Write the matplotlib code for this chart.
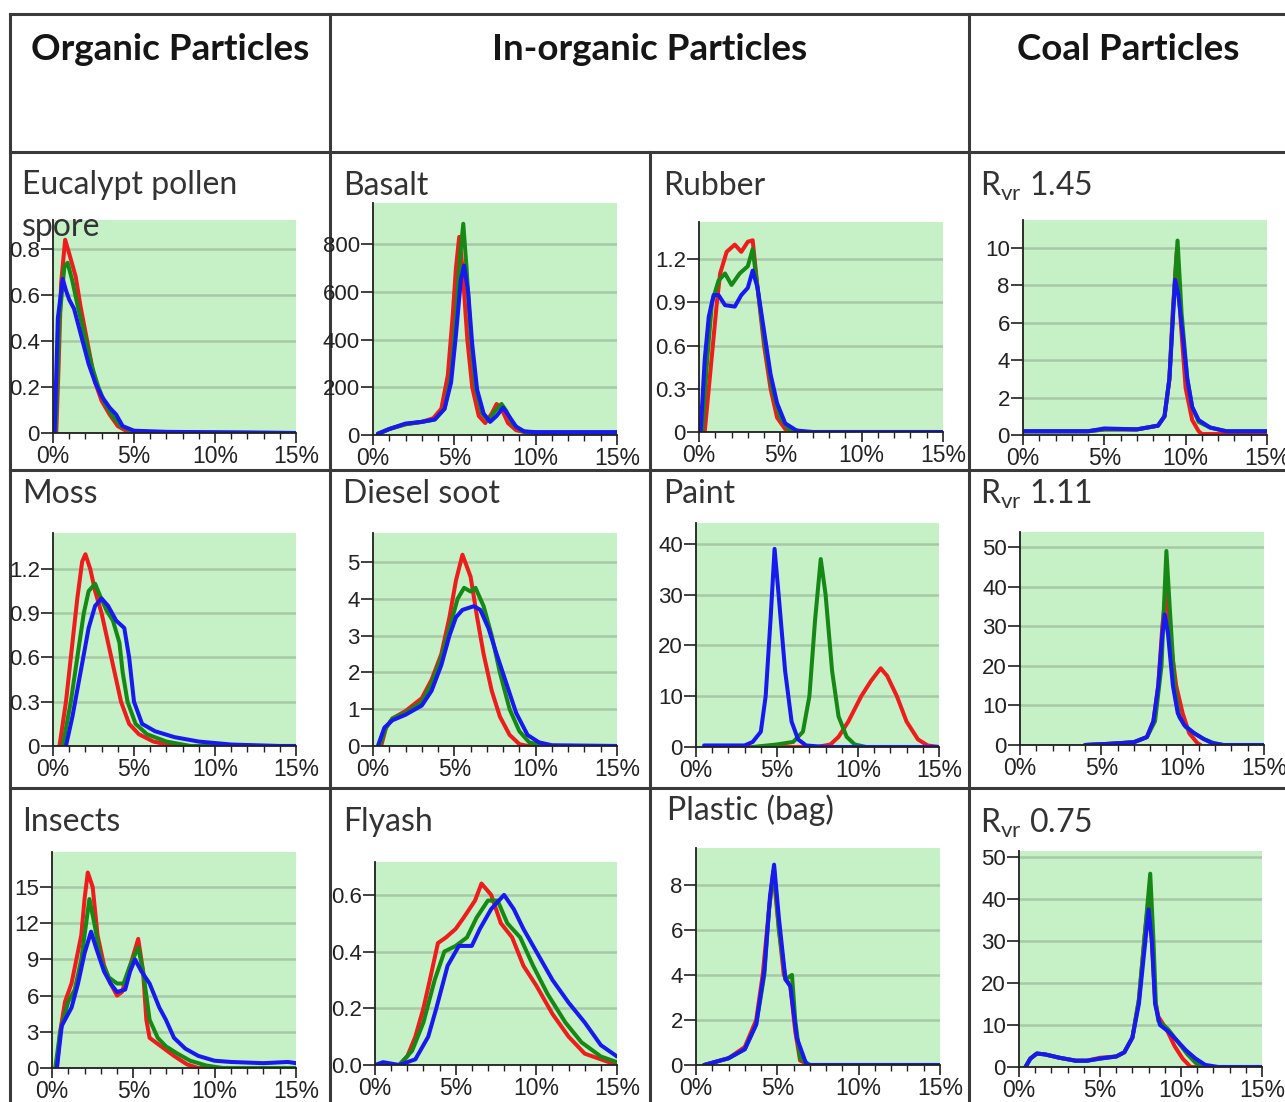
import matplotlib
matplotlib.use("Agg")
import matplotlib.pyplot as plt
from matplotlib.lines import Line2D
from matplotlib.ticker import MultipleLocator, FixedLocator

plt.rcParams['font.family'] = ['Lato', 'DejaVu Sans']
plt.rcParams['mathtext.fontset'] = 'custom'
plt.rcParams['mathtext.rm'] = 'Lato'
plt.rcParams['mathtext.it'] = 'Lato:italic'

# ---- data: (x in %, y) points, red / green / blue runs ----
euc_red = [(0, 0), (0.2, 0), (0.35, 0.3), (0.5, 0.65), (0.75, 0.84), (1.0, 0.78), (1.4, 0.68), (1.7, 0.55),
           (2.0, 0.44), (2.3, 0.33), (2.6, 0.22), (3.0, 0.14), (3.5, 0.08), (4.0, 0.03), (4.5, 0.01), (5.5, 0), (15, 0)]
euc_green = [(0, 0), (0.15, 0), (0.4, 0.5), (0.7, 0.72), (0.9, 0.74), (1.2, 0.66), (1.5, 0.56), (1.8, 0.47),
             (2.1, 0.38), (2.4, 0.29), (2.8, 0.2), (3.2, 0.13), (3.7, 0.07), (4.2, 0.03), (5.0, 0.005), (15, 0)]
euc_blue = [(0, 0), (0.1, 0), (0.3, 0.5), (0.6, 0.67), (0.8, 0.62), (1.0, 0.58), (1.3, 0.54), (1.6, 0.46),
            (1.9, 0.38), (2.2, 0.3), (2.6, 0.22), (3.0, 0.16), (3.5, 0.11), (3.9, 0.08), (4.3, 0.03), (5.0, 0.01),
            (7.0, 0.005), (15, 0)]
euc_yticks = [0, 0.2, 0.4, 0.6, 0.8]
euc_ylabels = ['0', '0.2', '0.4', '0.6', '0.8']

bas_red = [(0.3, 5), (1.0, 25), (2.0, 45), (3.0, 55), (3.7, 70), (4.2, 110), (4.6, 250), (4.9, 500), (5.1, 700),
           (5.3, 830), (5.5, 700), (5.8, 400), (6.1, 200), (6.5, 80), (6.9, 50), (7.3, 90), (7.6, 130), (7.9, 110),
           (8.3, 50), (8.8, 20), (9.5, 10), (11, 8), (15, 8)]
bas_green = [(0.3, 5), (1.0, 25), (2.0, 45), (3.0, 55), (3.8, 65), (4.4, 110), (4.8, 250), (5.1, 500), (5.35, 750),
             (5.55, 885), (5.75, 700), (6.0, 420), (6.3, 200), (6.7, 90), (7.1, 60), (7.5, 100), (7.9, 130),
             (8.2, 100), (8.6, 45), (9.2, 15), (10, 10), (15, 10)]
bas_blue = [(0.3, 5), (1.0, 25), (2.0, 48), (3.0, 55), (3.8, 65), (4.4, 110), (4.8, 220), (5.1, 420), (5.4, 650),
            (5.6, 710), (5.85, 600), (6.1, 380), (6.4, 190), (6.8, 90), (7.2, 55), (7.6, 80), (8.0, 115),
            (8.4, 75), (8.8, 35), (9.3, 15), (10, 12), (11.5, 12), (15, 12)]
bas_yticks = [0, 200, 400, 600, 800]
bas_ylabels = ['0', '200', '400', '600', '800']

rub_red = [(0.35, 0), (0.6, 0.3), (0.85, 0.6), (1.1, 0.9), (1.3, 1.1), (1.7, 1.25), (2.2, 1.3), (2.6, 1.25),
           (3.0, 1.32), (3.3, 1.33), (3.6, 1.0), (4.0, 0.6), (4.4, 0.3), (4.8, 0.1), (5.3, 0.02), (6.0, 0), (15, 0)]
rub_green = [(0.2, 0), (0.5, 0.5), (0.8, 0.9), (1.2, 1.05), (1.6, 1.1), (2.0, 1.02), (2.5, 1.1), (3.0, 1.15),
             (3.3, 1.27), (3.6, 1.0), (4.0, 0.65), (4.5, 0.3), (5.0, 0.1), (5.5, 0.02), (6.5, 0), (15, 0)]
rub_blue = [(0.1, 0), (0.35, 0.5), (0.6, 0.8), (0.9, 0.95), (1.2, 0.95), (1.6, 0.88), (2.2, 0.87), (2.6, 0.95),
            (3.0, 1.0), (3.3, 1.12), (3.6, 1.0), (4.0, 0.7), (4.4, 0.4), (4.8, 0.2), (5.3, 0.06), (6.0, 0.01),
            (7.0, 0), (15, 0)]
rub_yticks = [0, 0.3, 0.6, 0.9, 1.2]
rub_ylabels = ['0', '0.3', '0.6', '0.9', '1.2']

r145_red = [(0, 0.2), (4.0, 0.2), (5.0, 0.3), (7.0, 0.3), (8.3, 0.5), (8.7, 1.0), (9.0, 3.0), (9.2, 6.5),
            (9.45, 9.8), (9.7, 6.0), (10.0, 2.5), (10.4, 0.8), (10.8, 0.2), (11.0, 0.05), (15, 0.05)]
r145_green = [(0, 0.2), (4.0, 0.2), (5.0, 0.3), (7.0, 0.3), (8.3, 0.5), (8.7, 1.0), (9.0, 3.0), (9.25, 7.0),
              (9.5, 10.4), (9.75, 6.5), (10.1, 3.0), (10.4, 1.5), (10.8, 0.7), (11.5, 0.4), (12.5, 0.2), (15, 0.2)]
r145_blue = [(0, 0.2), (4.0, 0.2), (5.0, 0.35), (7.0, 0.3), (8.3, 0.5), (8.7, 1.0), (9.0, 3.0), (9.2, 6.0),
             (9.35, 8.3), (9.55, 7.5), (9.8, 5.5), (10.1, 3.0), (10.4, 1.5), (10.8, 0.8), (11.5, 0.4),
             (12.5, 0.2), (15, 0.2)]
r145_yticks = [0, 2, 4, 6, 8, 10]
r145_ylabels = ['0', '2', '4', '6', '8', '10']

moss_red = [(0.4, 0), (0.8, 0.3), (1.2, 0.7), (1.5, 1.0), (1.8, 1.25), (2.0, 1.3), (2.3, 1.2), (2.6, 1.05),
            (3.0, 0.9), (3.4, 0.7), (3.8, 0.5), (4.2, 0.3), (4.7, 0.15), (5.3, 0.08), (6.2, 0.03), (7.5, 0), (15, 0)]
moss_green = [(0.6, 0), (1.1, 0.3), (1.5, 0.6), (1.9, 0.9), (2.2, 1.05), (2.6, 1.1), (2.9, 1.02), (3.3, 0.92),
              (3.7, 0.85), (4.1, 0.7), (4.3, 0.5), (4.6, 0.3), (5.1, 0.15), (5.8, 0.08), (7.0, 0.03), (8.5, 0), (15, 0)]
moss_blue = [(0.8, 0), (1.2, 0.2), (1.7, 0.5), (2.2, 0.8), (2.6, 0.95), (3.0, 1.0), (3.4, 0.95), (3.9, 0.85),
             (4.4, 0.8), (4.7, 0.6), (5.0, 0.3), (5.5, 0.15), (6.3, 0.1), (7.5, 0.06), (9.0, 0.03), (11, 0.01),
             (14, 0), (15, 0)]
moss_yticks = [0, 0.3, 0.6, 0.9, 1.2]
moss_ylabels = ['0', '0.3', '0.6', '0.9', '1.2']

die_red = [(0.5, 0), (0.8, 0.5), (1.2, 0.75), (2.0, 0.95), (3.0, 1.3), (3.6, 1.8), (4.2, 2.5), (4.7, 3.5),
           (5.1, 4.5), (5.5, 5.2), (6.0, 4.6), (6.4, 3.5), (6.8, 2.5), (7.3, 1.5), (7.8, 0.8), (8.4, 0.3),
           (9.0, 0.05), (9.5, 0), (15, 0)]
die_green = [(0.4, 0), (0.8, 0.5), (1.2, 0.75), (2.0, 0.9), (3.0, 1.2), (3.6, 1.7), (4.2, 2.4), (4.7, 3.2),
             (5.2, 4.0), (5.6, 4.3), (6.0, 4.2), (6.3, 4.3), (6.8, 3.8), (7.3, 3.0), (7.8, 2.0), (8.4, 1.0),
             (9.0, 0.4), (9.6, 0.1), (10.5, 0), (15, 0)]
die_blue = [(0.3, 0), (0.7, 0.5), (1.2, 0.7), (2.0, 0.85), (3.0, 1.1), (3.6, 1.5), (4.2, 2.2), (4.7, 3.0),
            (5.1, 3.5), (5.5, 3.7), (6.2, 3.8), (6.6, 3.7), (7.1, 3.2), (7.6, 2.5), (8.2, 1.7), (8.8, 0.9),
            (9.5, 0.3), (10.2, 0.1), (11, 0.02), (15, 0)]
die_yticks = [0, 1, 2, 3, 4, 5]
die_ylabels = ['0', '1', '2', '3', '4', '5']

pai_red = [(0.5, 0), (7.5, 0), (8.3, 0.5), (8.8, 2.0), (9.4, 5.0), (10.2, 10.0), (10.8, 13.0), (11.4, 15.5),
           (11.8, 14.0), (12.4, 10.0), (13.0, 5.0), (13.7, 1.5), (14.3, 0.3), (15, 0)]
pai_green = [(3.5, 0), (5.0, 0.5), (6.0, 1.0), (6.6, 3.0), (7.0, 10.0), (7.35, 25.0), (7.7, 37.0), (8.0, 30.0),
             (8.4, 15.0), (8.8, 6.0), (9.3, 2.0), (9.8, 0.5), (10.5, 0), (15, 0)]
pai_blue = [(0.5, 0.3), (3.0, 0.3), (3.5, 1.0), (4.0, 3.0), (4.3, 10.0), (4.6, 25.0), (4.85, 39.0), (5.1, 30.0),
            (5.5, 15.0), (5.9, 5.0), (6.3, 1.5), (6.8, 0.3), (8.0, 0), (15, 0)]
pai_yticks = [0, 10, 20, 30, 40]
pai_ylabels = ['0', '10', '20', '30', '40']

r111_red = [(4.0, 0), (5.5, 0.3), (7.0, 0.7), (7.8, 2.0), (8.2, 6.0), (8.5, 15.0), (8.75, 30.0), (9.0, 40.0),
            (9.2, 28.0), (9.6, 15.0), (10.0, 8.0), (10.4, 3.0), (10.9, 0.5), (11.1, 0)]
r111_green = [(4.0, 0), (5.5, 0.3), (7.0, 0.7), (7.8, 2.0), (8.3, 6.0), (8.7, 20.0), (8.85, 35.0), (9.0, 49.0),
              (9.2, 35.0), (9.5, 15.0), (9.8, 7.0), (10.2, 4.5), (10.7, 3.0), (11.3, 1.5), (11.9, 0.5), (12.5, 0)]
r111_blue = [(4.0, 0), (5.5, 0.3), (7.0, 0.7), (7.8, 2.0), (8.2, 6.0), (8.5, 15.0), (8.75, 28.0), (8.9, 33.0),
             (9.1, 28.0), (9.4, 15.0), (9.7, 8.0), (10.1, 5.0), (10.7, 3.0), (11.3, 1.5), (11.8, 0.5), (12.5, 0),
             (15, 0)]
r111_yticks = [0, 10, 20, 30, 40, 50]
r111_ylabels = ['0', '10', '20', '30', '40', '50']

ins_red = [(0.3, 0), (0.5, 3.0), (0.8, 5.5), (1.2, 7.0), (1.5, 9.0), (1.8, 11.0), (2.0, 14.0), (2.2, 16.2),
           (2.5, 15.0), (2.8, 11.0), (3.2, 8.5), (3.6, 7.0), (4.0, 6.0), (4.3, 6.3), (4.7, 8.0), (5.3, 10.7),
           (5.6, 8.0), (5.8, 4.0), (6.0, 2.5), (6.5, 2.0), (7.0, 1.5), (7.5, 1.0), (8.3, 0.3), (9.0, 0), (15, 0)]
ins_green = [(0.2, 0), (0.5, 3.0), (1.0, 5.5), (1.4, 6.5), (1.8, 9.0), (2.1, 12.0), (2.3, 14.0), (2.6, 12.0),
             (3.0, 9.0), (3.5, 7.5), (4.0, 7.0), (4.4, 7.0), (4.8, 8.5), (5.3, 10.0), (5.6, 8.0), (6.0, 4.0),
             (6.5, 2.5), (7.0, 1.8), (7.7, 1.2), (8.5, 0.6), (9.5, 0.2), (10.5, 0), (15, 0)]
ins_blue = [(0.3, 0), (0.6, 3.5), (1.2, 5.0), (1.6, 7.0), (2.0, 9.5), (2.4, 11.3), (2.7, 10.0), (3.2, 8.0),
            (3.6, 7.0), (4.0, 6.3), (4.5, 6.5), (4.8, 8.0), (5.1, 9.0), (5.5, 8.0), (6.0, 7.0), (6.6, 5.0),
            (7.0, 4.0), (7.5, 2.5), (8.2, 1.6), (9.0, 1.0), (10, 0.6), (11, 0.5), (13, 0.4), (14.5, 0.5), (15, 0.4)]
ins_yticks = [0, 3, 6, 9, 12, 15]
ins_ylabels = ['0', '3', '6', '9', '12', '15']

fly_red = [(0, 0), (1.5, 0), (2.0, 0.03), (2.5, 0.1), (3.0, 0.2), (3.4, 0.3), (3.9, 0.43), (4.4, 0.45),
           (5.0, 0.48), (5.5, 0.52), (6.2, 0.58), (6.6, 0.64), (7.2, 0.6), (7.8, 0.5), (8.5, 0.45), (9.2, 0.35),
           (10.0, 0.28), (11.0, 0.18), (12.0, 0.1), (13.0, 0.04), (14.0, 0.02), (15, 0)]
fly_green = [(0, 0), (1.5, 0), (2.3, 0.05), (3.0, 0.15), (3.7, 0.3), (4.3, 0.4), (5.0, 0.42), (5.7, 0.45),
             (6.3, 0.52), (7.0, 0.58), (7.6, 0.58), (8.2, 0.5), (9.0, 0.45), (9.8, 0.35), (10.7, 0.25),
             (11.8, 0.15), (12.8, 0.08), (14.0, 0.03), (15, 0.01)]
fly_blue = [(0, 0), (0.5, 0.01), (1.5, 0), (2.5, 0.02), (3.3, 0.1), (3.8, 0.2), (4.5, 0.35), (5.2, 0.42),
            (6.0, 0.42), (6.5, 0.48), (7.2, 0.55), (8.0, 0.6), (8.6, 0.55), (9.2, 0.48), (10.0, 0.4), (11.0, 0.3),
            (12.0, 0.22), (13.0, 0.15), (14.0, 0.07), (15, 0.03)]
fly_yticks = [0, 0.2, 0.4, 0.6]
fly_ylabels = ['0.0', '0.2', '0.4', '0.6']

pla_red = [(0.5, 0), (2.0, 0.3), (3.0, 0.8), (3.7, 2.0), (4.1, 4.0), (4.5, 7.0), (4.75, 8.6), (5.1, 6.0),
           (5.4, 4.0), (5.8, 3.5), (6.1, 1.5), (6.4, 0.2), (7.0, 0), (15, 0)]
pla_green = [(0.5, 0), (2.0, 0.3), (3.0, 0.7), (3.7, 1.8), (4.2, 4.0), (4.5, 7.0), (4.8, 8.7), (5.1, 6.0),
             (5.5, 3.8), (5.9, 4.0), (6.1, 2.0), (6.4, 0.3), (7.0, 0), (15, 0)]
pla_blue = [(0.5, 0), (2.0, 0.3), (3.0, 0.7), (3.7, 1.8), (4.2, 4.2), (4.55, 7.5), (4.8, 8.9), (5.1, 6.5),
            (5.5, 3.8), (5.8, 3.5), (6.2, 1.2), (6.8, 0), (15, 0)]
pla_yticks = [0, 2, 4, 6, 8]
pla_ylabels = ['0', '2', '4', '6', '8']

r075_red = [(0.4, 0), (0.7, 2.0), (1.1, 3.2), (1.6, 3.0), (2.5, 2.2), (3.5, 1.5), (4.2, 1.5), (5.0, 2.2),
            (6.0, 2.5), (6.5, 3.5), (7.0, 7.0), (7.4, 16.0), (7.8, 33.0), (8.0, 40.0), (8.2, 30.0), (8.4, 16.0),
            (8.6, 12.0), (9.1, 9.0), (9.6, 5.0), (10.1, 2.0), (10.6, 0), (15, 0)]
r075_green = [(0.4, 0), (0.7, 2.0), (1.1, 3.2), (1.6, 3.0), (2.5, 2.2), (3.5, 1.5), (4.2, 1.5), (5.0, 2.0),
              (6.0, 2.5), (6.5, 3.5), (7.0, 7.0), (7.4, 16.0), (7.8, 33.0), (8.1, 46.0), (8.3, 30.0), (8.45, 15.0),
              (8.6, 11.0), (9.2, 9.0), (9.8, 6.0), (10.4, 3.0), (10.9, 1.0), (11.3, 0), (15, 0)]
r075_blue = [(0.4, 0), (0.7, 2.0), (1.1, 3.2), (1.6, 3.0), (2.5, 2.2), (3.5, 1.5), (4.2, 1.5), (5.0, 2.0),
             (6.0, 2.5), (6.5, 3.5), (7.0, 7.0), (7.4, 15.0), (7.8, 30.0), (8.0, 37.5), (8.2, 30.0), (8.4, 15.0),
             (8.7, 10.0), (9.2, 8.5), (9.7, 6.5), (10.3, 4.0), (10.9, 2.0), (11.5, 0.5), (12.3, 0), (15, 0)]
r075_yticks = [0, 10, 20, 30, 40, 50]
r075_ylabels = ['0', '10', '20', '30', '40', '50']

x_ticks = [0, 5, 10, 15]
x_labels = ['0%', '5%', '10%', '15%']

# ---- layout (pixels in a 1285 x 1102 picture) ----
W, H = 1285, 1102
RED, GREEN, BLUE = '#ee1c1c', '#168816', '#1818f0'
BG = '#c6f1c6'
GRID = '#a6c9a6'
LINE = '#3a3a3a'

fig = plt.figure(figsize=(W / 100, H / 100), dpi=100)

# table rules, kept under the axes so tick labels stay readable
rules = [
    (10, 14, 1285, 14), (10, 152, 1285, 152), (10, 470, 1285, 470), (10, 788, 1285, 788),
    (10, 14, 10, 1102), (330, 14, 330, 1102), (650, 152, 650, 1102), (969, 14, 969, 1102),
]
for x0, y0, x1, y1 in rules:
    fig.add_artist(Line2D([x0 / W, x1 / W], [1 - y0 / H, 1 - y1 / H], transform=fig.transFigure,
                          color=LINE, lw=2.2, zorder=-1))

for txt, xc in [('Organic Particles', 170), ('In-organic Particles', 650), ('Coal Particles', 1128)]:
    fig.text(xc / W, 1 - 50 / H, txt, ha='center', va='center', fontsize=26.5, fontweight='bold', color='#151515')

# title, title x, title y, (left, top, right, bottom), ymax, yticks, ylabels, (red, green, blue)
panels = [
    ('Eucalypt pollen\nspore', 22, 170, (53, 220, 296, 433), 0.926, euc_yticks, euc_ylabels,
     (euc_red, euc_green, euc_blue)),
    ('Basalt', 343, 186, (373, 203, 617, 435), 972, bas_yticks, bas_ylabels, (bas_red, bas_green, bas_blue)),
    ('Rubber', 663, 186, (699, 222, 943, 432), 1.457, rub_yticks, rub_ylabels, (rub_red, rub_green, rub_blue)),
    (r'R$_{\mathrm{vr}}$ 1.45', 980, 186, (1023, 220, 1267, 435), 11.5, r145_yticks, r145_ylabels,
     (r145_red, r145_green, r145_blue)),
    ('Moss', 22, 494, (53, 533, 296, 746), 1.444, moss_yticks, moss_ylabels, (moss_red, moss_green, moss_blue)),
    ('Diesel soot', 343, 494, (373, 533, 617, 746), 5.79, die_yticks, die_ylabels, (die_red, die_green, die_blue)),
    ('Paint', 663, 494, (696, 523, 939, 747), 44.1, pai_yticks, pai_ylabels, (pai_red, pai_green, pai_blue)),
    (r'R$_{\mathrm{vr}}$ 1.11', 980, 494, (1020, 532, 1264, 745), 53.8, r111_yticks, r111_ylabels,
     (r111_red, r111_green, r111_blue)),
    ('Insects', 22, 822, (52, 852, 296, 1068), 17.9, ins_yticks, ins_ylabels, (ins_red, ins_green, ins_blue)),
    ('Flyash', 343, 822, (375, 862, 617, 1065), 0.716, fly_yticks, fly_ylabels, (fly_red, fly_green, fly_blue)),
    ('Plastic (bag)', 667, 810, (696, 848, 940, 1065), 9.64, pla_yticks, pla_ylabels, (pla_red, pla_green, pla_blue)),
    (r'R$_{\mathrm{vr}}$ 0.75', 980, 823, (1019, 851, 1262, 1067), 51.4, r075_yticks, r075_ylabels,
     (r075_red, r075_green, r075_blue)),
]

for title, tx, ty, (l, t, r, b), ymax, yt, yl, series in panels:
    ax = fig.add_axes([l / W, 1 - b / H, (r - l) / W, (b - t) / H])
    ax.set_facecolor(BG)
    for pts, col in zip(series, (RED, GREEN, BLUE)):
        xs, ys = zip(*pts)
        ax.plot(xs, ys, color=col, lw=2.9, solid_joinstyle='round', solid_capstyle='round')
    ax.set_xlim(0, 15)
    ax.set_ylim(0, ymax)
    ax.xaxis.set_major_locator(FixedLocator(x_ticks))
    ax.set_xticklabels(x_labels)
    ax.xaxis.set_minor_locator(MultipleLocator(1))
    ax.set_yticks(yt)
    ax.set_yticklabels(yl)
    ax.grid(axis='y', color=GRID, lw=1.8)
    ax.set_axisbelow(True)
    for s in ('top', 'right'):
        ax.spines[s].set_visible(False)
    for s in ('left', 'bottom'):
        ax.spines[s].set_linewidth(1.3)
        ax.spines[s].set_color('#202020')
    ax.tick_params(axis='y', direction='out', length=9, width=1.2, pad=0.5, labelsize=16,
                   labelfontfamily='Liberation Sans', labelcolor='#222222', color='#202020')
    ax.tick_params(axis='x', which='major', direction='out', length=7, width=1.2, pad=1.5, labelsize=16.5,
                   labelfontfamily='Liberation Sans', labelcolor='#222222', color='#202020')
    ax.tick_params(axis='x', which='minor', direction='out', length=4, width=1.0, color='#202020')
    va = 'top' if '\n' in title else 'center'
    fig.text(tx / W, 1 - ty / H, title, ha='left', va=va, fontsize=23, color='#333333',
             linespacing=1.5, zorder=6)

fig.savefig('out.png', dpi=100)
